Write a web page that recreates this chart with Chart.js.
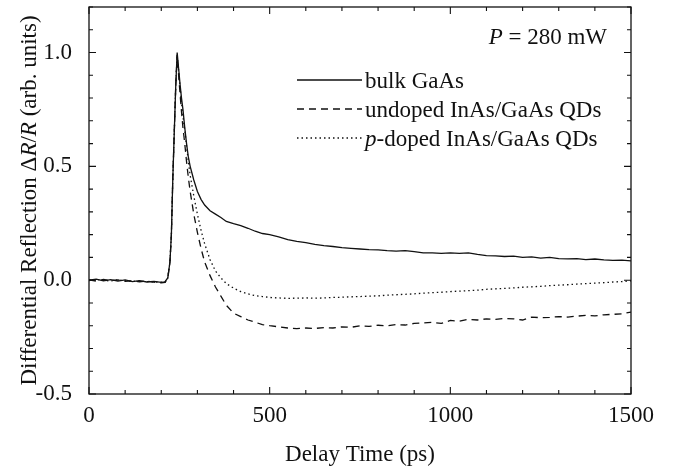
<!DOCTYPE html>
<html>
<head>
<meta charset="utf-8">
<script src="https://cdn.jsdelivr.net/npm/chart.js@4.4.0/dist/chart.umd.min.js"></script>
<style>
  html, body { margin: 0; padding: 0; background: #fff; }
  #wrap { width: 677px; height: 470px; }
</style>
</head>
<body>
<div id="wrap"><canvas id="trChart" width="677" height="470"></canvas></div>
<script>
// delay times (ps), shared by all three traces
const delays = [
    0, 20, 40, 60, 80, 100, 120, 140, 160, 180, 200, 210, 218, 224, 228, 232, 236, 240, 244, 248,
    252, 256, 260, 265, 270, 275, 280, 290, 300, 310, 320, 335, 350, 365, 380, 400, 420, 440, 460, 480,
    500, 525, 550, 575, 600, 625, 650, 675, 700, 725, 750, 775, 800, 825, 850, 875, 900, 925, 950, 975,
    1000, 1025, 1050, 1075, 1100, 1125, 1150, 1175, 1200, 1225, 1250, 1275, 1300, 1325, 1350, 1375, 1400, 1425, 1450, 1475,
    1500
];

const bulkGaAs = [
    0.000, 0.005, -0.003, 0.002, -0.004, 0.001, -0.006, -0.002, -0.008, -0.005, -0.010, -0.008, 0.010, 0.080, 0.200, 0.450, 0.650, 0.850, 1.000, 0.930,
    0.860, 0.800, 0.750, 0.670, 0.600, 0.540, 0.500, 0.440, 0.390, 0.355, 0.330, 0.305, 0.290, 0.275, 0.258, 0.248, 0.240, 0.228, 0.215, 0.205,
    0.200, 0.190, 0.178, 0.170, 0.165, 0.157, 0.152, 0.148, 0.143, 0.140, 0.137, 0.134, 0.133, 0.130, 0.128, 0.130, 0.125, 0.120, 0.120, 0.118,
    0.120, 0.118, 0.120, 0.113, 0.108, 0.107, 0.104, 0.106, 0.100, 0.102, 0.097, 0.100, 0.095, 0.094, 0.095, 0.090, 0.093, 0.089, 0.087, 0.088,
    0.085
];

const undopedQD = [
    0.002, -0.004, 0.003, -0.002, 0.001, -0.005, -0.003, -0.007, -0.004, -0.009, -0.012, -0.010, 0.008, 0.080, 0.200, 0.450, 0.650, 0.850, 0.990, 0.900,
    0.820, 0.740, 0.670, 0.600, 0.520, 0.450, 0.390, 0.290, 0.210, 0.140, 0.080, 0.020, -0.030, -0.070, -0.110, -0.145, -0.160, -0.175, -0.185, -0.195,
    -0.200, -0.205, -0.210, -0.213, -0.210, -0.212, -0.208, -0.210, -0.205, -0.207, -0.200, -0.203, -0.198, -0.200, -0.195, -0.197, -0.190, -0.188, -0.185, -0.190,
    -0.177, -0.180, -0.172, -0.175, -0.170, -0.172, -0.168, -0.170, -0.175, -0.162, -0.165, -0.163, -0.160, -0.162, -0.158, -0.155, -0.157, -0.152, -0.150, -0.148,
    -0.140
];

const pdopedQD = [
    -0.002, 0.003, -0.001, -0.004, 0.002, -0.003, -0.005, -0.004, -0.006, -0.008, -0.009, -0.011, 0.009, 0.080, 0.200, 0.450, 0.650, 0.850, 0.990, 0.920,
    0.850, 0.780, 0.720, 0.660, 0.590, 0.520, 0.460, 0.370, 0.290, 0.220, 0.160, 0.090, 0.040, 0.010, -0.015, -0.035, -0.050, -0.060, -0.068, -0.072,
    -0.076, -0.078, -0.080, -0.079, -0.078, -0.079, -0.078, -0.076, -0.075, -0.073, -0.072, -0.070, -0.069, -0.066, -0.064, -0.062, -0.060, -0.057, -0.055, -0.053,
    -0.050, -0.048, -0.046, -0.044, -0.040, -0.038, -0.036, -0.034, -0.031, -0.029, -0.027, -0.024, -0.022, -0.020, -0.017, -0.015, -0.013, -0.011, -0.008, -0.006,
    -0.003
];

const seriesNames = ["bulk GaAs", "undoped InAs/GaAs QDs", "p-doped InAs/GaAs QDs"];
const xTickLabels = ["0", "500", "1000", "1500"];
const yTickLabels = ["-0.5", "0.0", "0.5", "1.0"];

const SERIF = "'Liberation Serif', 'DejaVu Serif', serif";
const INK = "#111";

function pts(ys) {
    return delays.map((x, i) => ({ x: x, y: ys[i] }));
}

// draw a run of [text, italic] pieces starting at x
function drawRuns(ctx, runs, x, y, size) {
    runs.forEach(r => {
        ctx.font = (r[1] ? "italic " : "") + size + "px " + SERIF;
        ctx.fillText(r[0], x, y);
        x += ctx.measureText(r[0]).width;
    });
}
function runsWidth(ctx, runs, size) {
    let w = 0;
    runs.forEach(r => {
        ctx.font = (r[1] ? "italic " : "") + size + "px " + SERIF;
        w += ctx.measureText(r[0]).width;
    });
    return w;
}

const decorations = {
    id: "decorations",
    afterDraw(chart) {
        const ctx = chart.ctx;
        const a = chart.chartArea;
        const xs = chart.scales.x, ys = chart.scales.y;
        ctx.save();
        ctx.strokeStyle = INK;
        ctx.fillStyle = INK;

        // frame
        ctx.lineWidth = 1.3;
        ctx.strokeRect(a.left, a.top, a.right - a.left, a.bottom - a.top);

        // inward ticks on all four sides
        ctx.lineWidth = 1.1;
        ctx.beginPath();
        xs.ticks.forEach(t => {
            const px = xs.getPixelForValue(t.value);
            const len = Math.round(t.value) % 500 === 0 ? 7 : 4;
            ctx.moveTo(px, a.bottom); ctx.lineTo(px, a.bottom - len);
            ctx.moveTo(px, a.top); ctx.lineTo(px, a.top + len);
        });
        ys.ticks.forEach(t => {
            const py = ys.getPixelForValue(t.value);
            const len = Math.round(t.value * 10) % 5 === 0 ? 7 : 4;
            ctx.moveTo(a.left, py); ctx.lineTo(a.left + len, py);
            ctx.moveTo(a.right, py); ctx.lineTo(a.right - len, py);
        });
        ctx.stroke();

        const fs = 23;
        ctx.textBaseline = "alphabetic";

        // power annotation
        const pRuns = [["P", true], [" = 280 mW", false]];
        drawRuns(ctx, pRuns, 607 - runsWidth(ctx, pRuns, fs), 44, fs);

        // legend
        const legendRuns = [
            [[seriesNames[0], false]],
            [[seriesNames[1], false]],
            [["p", true], [seriesNames[2].slice(1), false]]
        ];
        chart.data.datasets.forEach((ds, i) => {
            const ly = 80 + i * 29;
            ctx.lineWidth = ds.borderWidth;
            ctx.setLineDash(ds.borderDash || []);
            ctx.beginPath();
            ctx.moveTo(297, ly); ctx.lineTo(362, ly);
            ctx.stroke();
            ctx.setLineDash([]);
            drawRuns(ctx, legendRuns[i], 365, ly + 8, fs);
        });

        // axis titles
        const xt = [["Delay Time (ps)", false]];
        drawRuns(ctx, xt, (a.left + a.right) / 2 - runsWidth(ctx, xt, fs) / 2, 461, fs);

        const yt = [["Differential Reflection \u0394", false], ["R", true], ["/", false], ["R", true], [" (arb. units)", false]];
        ctx.translate(36, (a.top + a.bottom) / 2);
        ctx.rotate(-Math.PI / 2);
        drawRuns(ctx, yt, -runsWidth(ctx, yt, fs) / 2, 0, fs);

        ctx.restore();
    }
};

new Chart(document.getElementById("trChart"), {
    type: "line",
    data: {
        datasets: [
            { label: seriesNames[0], data: pts(bulkGaAs), borderColor: INK, borderWidth: 1.3, borderDash: [] },
            { label: seriesNames[1], data: pts(undopedQD), borderColor: INK, borderWidth: 1.3, borderDash: [7, 5] },
            { label: seriesNames[2], data: pts(pdopedQD), borderColor: INK, borderWidth: 1.3, borderDash: [1.5, 3] }
        ]
    },
    options: {
        responsive: false,
        animation: false,
        layout: { padding: { top: 7, right: 46, left: 0, bottom: 0 } },
        elements: { point: { radius: 0 }, line: { tension: 0, fill: false } },
        plugins: { legend: { display: false }, tooltip: { enabled: false } },
        scales: {
            x: {
                type: "linear",
                min: 0, max: 1500,
                grid: { display: false },
                border: { display: false },
                ticks: {
                    stepSize: 100,
                    autoSkip: false,
                    maxRotation: 0,
                    padding: 0,
                    color: INK,
                    font: { family: SERIF, size: 23 },
                    callback: v => (Math.round(v) % 500 === 0 ? xTickLabels[Math.round(v) / 500] : "")
                },
                afterFit: s => { s.height = 76; s.paddingLeft = 0; s.paddingRight = 0; }
            },
            y: {
                min: -0.5, max: 1.2,
                grid: { display: false },
                border: { display: false },
                ticks: {
                    stepSize: 0.1,
                    autoSkip: false,
                    padding: 9,
                    color: INK,
                    font: { family: SERIF, size: 23 },
                    callback: v => {
                        const k = Math.round(v * 10);
                        return k % 5 === 0 ? yTickLabels[(k + 5) / 5] : "";
                    }
                },
                afterFit: s => { s.width = 89; s.paddingTop = 0; s.paddingBottom = 0; }
            }
        }
    },
    plugins: [decorations]
});
</script>
</body>
</html>
